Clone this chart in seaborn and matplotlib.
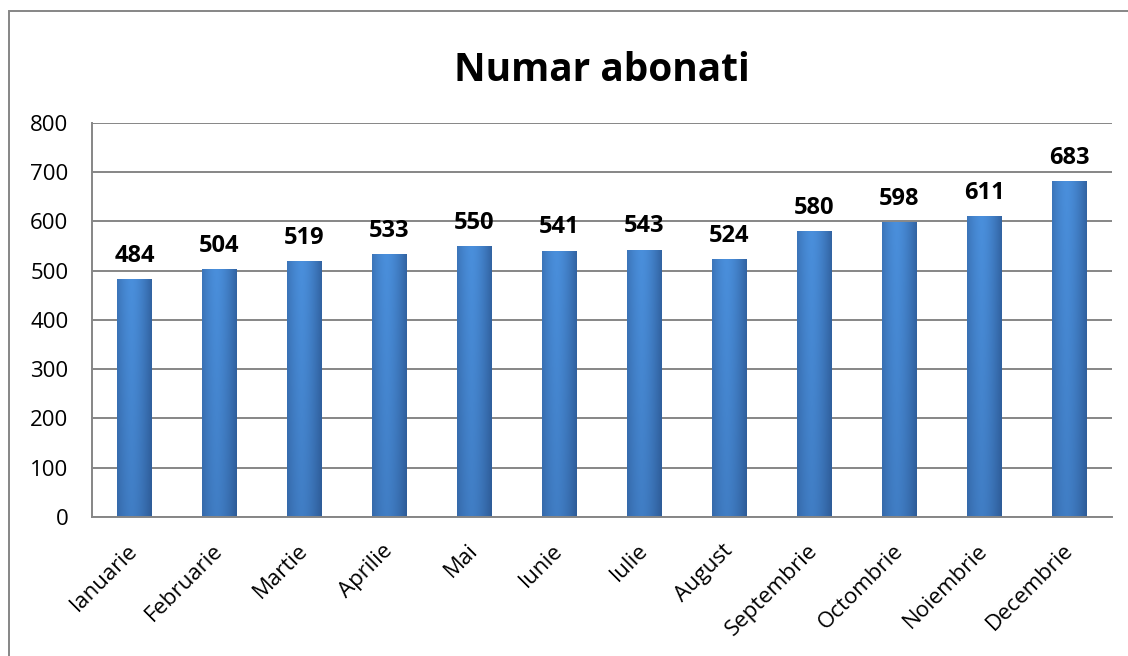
import numpy as np
import pandas as pd
import matplotlib
matplotlib.use("Agg")
import matplotlib.pyplot as plt
import seaborn as sns
from matplotlib.patches import Rectangle
from matplotlib.ticker import FixedLocator

luni = ["Ianuarie", "Februarie", "Martie", "Aprilie", "Mai", "Iunie",
        "Iulie", "August", "Septembrie", "Octombrie", "Noiembrie", "Decembrie"]
abonati = [484, 504, 519, 533, 550, 541, 543, 524, 580, 598, 611, 683]

df = pd.DataFrame({"luna": luni, "abonati": abonati})

sns.set_style("white")
plt.rcParams["font.family"] = ["Open Sans", "DejaVu Sans"]
plt.rcParams["text.color"] = "black"
plt.rcParams["xtick.color"] = "black"
plt.rcParams["ytick.color"] = "black"

fig = plt.figure(figsize=(11.28, 6.56), dpi=100)
ax = fig.add_axes([0.0816, 0.2119, 0.9042, 0.6006])

sns.barplot(data=df, x="luna", y="abonati", color="#3f7fcf", width=0.41,
            ax=ax, saturation=1, edgecolor="none")

# gradient fill like the Excel bevel, clipped to each bar
xs = np.linspace(0, 1, 64)
hprof = 1 - 0.55 * np.abs(xs - 0.42) ** 1.6 / 0.58 ** 1.6
ys = np.linspace(0, 1, 64)[:, None]
shade = (0.78 + 0.22 * ys) * hprof[None, :]
dark = np.array([0.12, 0.25, 0.45])
light = np.array([0.29, 0.56, 0.86])
img = dark + (light - dark) * np.clip(shade, 0, 1)[..., None]
for p in ax.patches:
    x0, w, h = p.get_x(), p.get_width(), p.get_height()
    im = ax.imshow(img, extent=[x0, x0 + w, 0, h], origin="lower",
                   aspect="auto", zorder=p.get_zorder() + 0.1)
    im.set_clip_path(p)
    ax.annotate(f"{int(h)}", (x0 + w / 2, h), xytext=(0, 8),
                textcoords="offset points", ha="center", va="bottom",
                fontsize=17, fontweight="bold", color="black")

ax.set_xlim(-0.5, len(luni) - 0.5)
ax.set_ylim(0, 800)
ax.set_yticks(range(0, 801, 100))
ax.yaxis.grid(True, color="#868686", linewidth=1.4)
ax.set_axisbelow(True)
ax.set_xlabel("")
ax.set_ylabel("")
ax.set_title("Numar abonati", fontsize=28, fontweight="bold", pad=30,
             color="black")

for s in ["top", "right"]:
    ax.spines[s].set_visible(False)
for s in ["left", "bottom"]:
    ax.spines[s].set_color("#868686")
    ax.spines[s].set_linewidth(1.4)

ax.tick_params(axis="y", length=7, width=1.4, color="#868686",
               labelsize=16, pad=10)
ax.tick_params(axis="x", which="major", length=0, labelsize=16, pad=22)
ax.xaxis.set_minor_locator(FixedLocator(np.arange(-0.5, len(luni), 1)))
ax.tick_params(axis="x", which="minor", length=7, width=1.4, color="#868686")
plt.setp(ax.get_xticklabels(), rotation=45, ha="right", va="center",
         rotation_mode="anchor")

fig.patches.append(Rectangle((9 / 1128, -0.1), 1.2, 1 - 11 / 656 + 0.1,
                             transform=fig.transFigure, fill=False,
                             edgecolor="#868686", linewidth=1.4))

fig.savefig("out.png", dpi=100)
